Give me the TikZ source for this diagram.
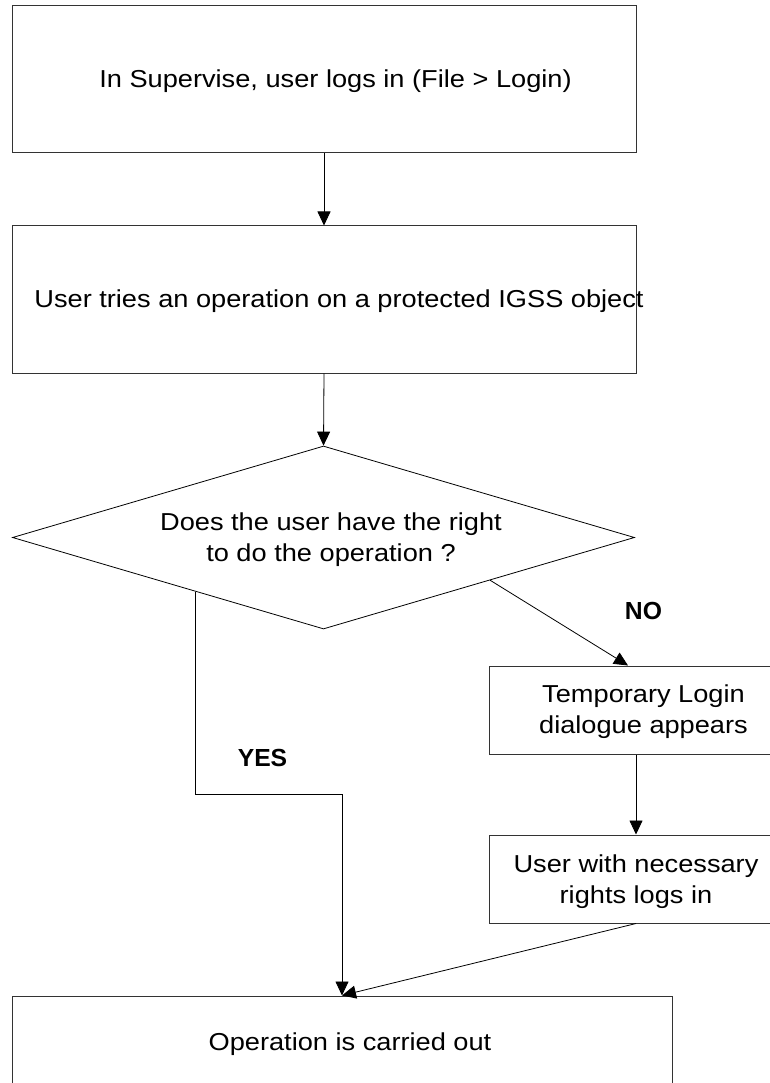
\documentclass[tikz,border=0pt]{standalone}
\usepackage{fontspec}
\setmainfont{Liberation Sans}[FakeStretch=1.11]
\newfontfamily\lblfont{Liberation Sans}
\usetikzlibrary{arrows.meta,shapes.geometric,calc}
\begin{document}
\begin{tikzpicture}[x=1pt,y=-1pt,
  box/.style={draw=black!80, line width=1pt, rectangle, inner sep=0pt},
  dec/.style={draw=black, line width=0.8pt, diamond, inner sep=0pt},
  txt/.style={font=\fontsize{24.5}{31}\selectfont, inner sep=0pt, anchor=base, align=center},
  lbl/.style={font=\lblfont\bfseries\fontsize{24.7}{30}\selectfont, inner sep=0pt, anchor=base},
  conn/.style={draw=black, line width=0.8pt},
  arr/.style={conn, -{Triangle[length=14pt,width=13pt]}}]
\useasboundingbox (0,0) rectangle (770,1083);
\clip (0,0) rectangle (770,1083);
\fill[white] (0,0) rectangle (770,1083);
% shapes
\node[box, minimum width=624, minimum height=147] (b1) at (324,79.5) {};
\node[box, minimum width=624, minimum height=147] (b2) at (324,299.5) {};
\node[dec, minimum width=622, minimum height=183] (d) at (323.5,537.5) {};
\node[box, minimum width=294, minimum height=88] (tmp) at (636,710) {};
\node[box, minimum width=294, minimum height=88] (usr) at (636,879) {};
\node[box, minimum width=660, minimum height=94] (op) at (342,1043) {};
% texts (multi-line nodes: base = last line's baseline)
\node[txt] (t1) at (335.5,87.5) {In Supervise, user logs in (File > Login)};
\node[txt] (t2) at (339,307) {User tries an operation on a protected IGSS object};
\node[txt] (td) at (331,561) {Does the user have the right\\to do the operation ?};
\node[txt] (tt) at (643.5,733.3) {Temporary Login\\dialogue appears};
\node[txt] (tu) at (636,903) {User with necessary\\rights logs in};
\node[txt] (to) at (350,1050) {Operation is carried out};
\node[lbl] (no) at (643.5,619) {NO};
\node[lbl] (yes) at (262.5,766) {YES};
% connectors
\draw[arr] (b1.south) -- (b2.north);
\draw[arr] (b2.south) -- (d.north);
\coordinate (ns) at ($(d.east)!0.465!(d.south)$);
\coordinate (ne) at ($(tmp.north)+(-8,0)$);
\draw[arr] (ns) -- (ne);
\coordinate (ys) at ($(d.west)!0.59!(d.south)$);
\coordinate (yb) at (342,794);
\draw[arr] (ys) |- (yb) -- (op.north);
\draw[arr] (tmp.south) -- (usr.north);
\draw[arr] (usr.south) -- (op.north);
\end{tikzpicture}
\end{document}
